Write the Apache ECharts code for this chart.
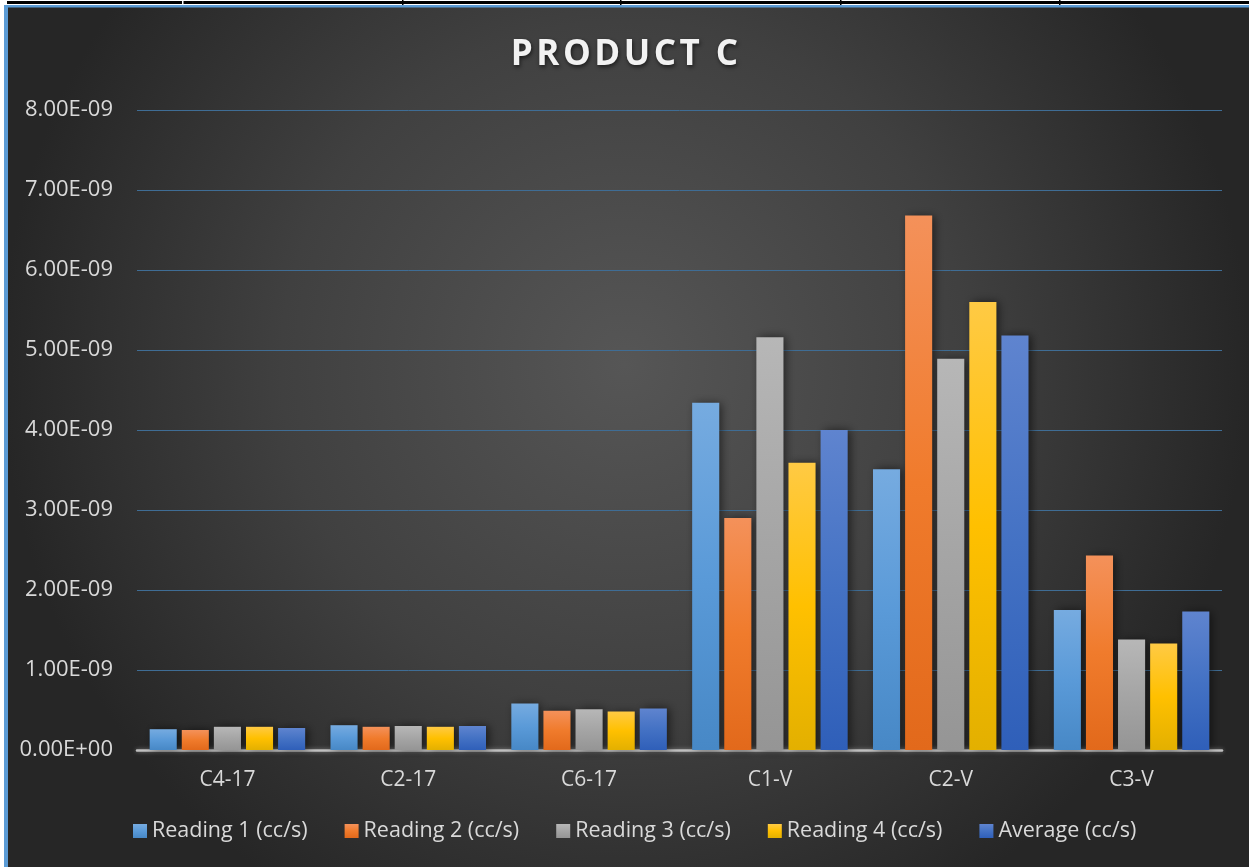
<!DOCTYPE html>
<html>
<head>
<meta charset="utf-8">
<style>
  html, body { margin: 0; padding: 0; background: #ffffff; }
  #chart { width: 1249px; height: 867px; }
</style>
<script src="https://cdn.jsdelivr.net/npm/echarts@6/dist/echarts.min.js"></script>
</head>
<body>
<div id="chart"></div>
<script>
// Leak-rate readings per sample, in cc/s
const categories = ['C4-17', 'C2-17', 'C6-17', 'C1-V', 'C2-V', 'C3-V'];
const seriesNames = ['Reading 1 (cc/s)', 'Reading 2 (cc/s)', 'Reading 3 (cc/s)', 'Reading 4 (cc/s)', 'Average (cc/s)'];
const reading1 = [0.26e-9, 0.31e-9, 0.58e-9, 4.34e-9, 3.51e-9, 1.75e-9];
const reading2 = [0.25e-9, 0.29e-9, 0.49e-9, 2.90e-9, 6.68e-9, 2.43e-9];
const reading3 = [0.29e-9, 0.30e-9, 0.51e-9, 5.16e-9, 4.89e-9, 1.38e-9];
const reading4 = [0.29e-9, 0.29e-9, 0.48e-9, 3.59e-9, 5.60e-9, 1.33e-9];
const average  = [0.275e-9, 0.30e-9, 0.52e-9, 4.00e-9, 5.18e-9, 1.73e-9];
const yMax = 8e-9;
const yStep = 1e-9;

// Vertical gradients for each series (top colour, middle, bottom)
const palette = [
  ['#76abe0', '#5a9ad8', '#4788c6'],
  ['#f4915a', '#f07b2c', '#e2691b'],
  ['#b7b7b7', '#a5a5a5', '#959595'],
  ['#ffca44', '#ffc000', '#e3b000'],
  ['#5f84cf', '#4472c4', '#2f5fb9']
];
const values = [reading1, reading2, reading3, reading4, average];

// 0.00E+00 style tick labels
function sci(v) {
  if (v === 0) return '0.00E+00';
  const s = v.toExponential(2);
  const [m, e] = s.split('e');
  const n = parseInt(e, 10);
  const sign = n < 0 ? '-' : '+';
  const ab = Math.abs(n);
  return m + 'E' + sign + (ab < 10 ? '0' + ab : ab);
}

const chart = echarts.init(document.getElementById('chart'));

const series = values.map((data, i) => ({
  name: seriesNames[i],
  type: 'bar',
  data: data,
  barGap: '18.5%',
  barCategoryGap: '14%',
  itemStyle: {
    color: new echarts.graphic.LinearGradient(0, 0, 0, 1, [
      { offset: 0, color: palette[i][0] },
      { offset: 0.5, color: palette[i][1] },
      { offset: 1, color: palette[i][2] }
    ]),
    shadowColor: 'rgba(0,0,0,0.55)',
    shadowBlur: 9,
    shadowOffsetX: 3,
    shadowOffsetY: 0
  },
  emphasis: { disabled: true }
}));

chart.setOption({
  animation: false,
  backgroundColor: new echarts.graphic.RadialGradient(0.5, 0.42, 0.72, [
    { offset: 0, color: '#565656' },
    { offset: 0.55, color: '#404040' },
    { offset: 1, color: '#262626' }
  ]),
  graphic: [
    // frame strips along the top and left edges
    { type: 'rect', shape: { x: 0, y: 0, width: 1249, height: 5 }, style: { fill: '#ffffff' }, z: 10 },
    { type: 'rect', shape: { x: 0, y: 0, width: 4, height: 867 }, style: { fill: '#ffffff' }, z: 10 },
    { type: 'rect', shape: { x: 7, y: 1, width: 1242, height: 3 }, style: { fill: '#000000' }, z: 11 },
    { type: 'rect', shape: { x: 4, y: 5, width: 1245, height: 2.5 }, style: { fill: '#5b9bd5' }, z: 11 },
    { type: 'rect', shape: { x: 4, y: 5, width: 4, height: 862 }, style: { fill: '#5b9bd5' }, z: 11 },
    { type: 'rect', shape: { x: 182, y: 0, width: 1.5, height: 4 }, style: { fill: '#ffffff' }, z: 12 },
    { type: 'rect', shape: { x: 402, y: 0, width: 1.5, height: 5 }, style: { fill: '#000000' }, z: 12 },
    { type: 'rect', shape: { x: 620, y: 0, width: 1.5, height: 5 }, style: { fill: '#000000' }, z: 12 },
    { type: 'rect', shape: { x: 840, y: 0, width: 1.5, height: 5 }, style: { fill: '#000000' }, z: 12 },
    { type: 'rect', shape: { x: 1059, y: 0, width: 1.5, height: 5 }, style: { fill: '#000000' }, z: 12 }
  ],
  title: {
    text: 'P\u200AR\u200AO\u200AD\u200AU\u200AC\u200AT\u200A \u200AC',
    left: 'center',
    top: 33,
    textStyle: {
      fontFamily: 'Open Sans',
      fontWeight: 'bold',
      fontSize: 35,
      color: '#f2f2f2',
      textShadowColor: 'rgba(0,0,0,0.6)',
      textShadowBlur: 4,
      textShadowOffsetX: 1,
      textShadowOffsetY: 2
    }
  },
  legend: {
    bottom: 20,
    left: 128,
    itemWidth: 14,
    itemHeight: 14,
    itemGap: 37,
    icon: 'rect',
    textStyle: { color: '#d9d9d9', fontFamily: 'Open Sans', fontSize: 21.5 },
    data: seriesNames
  },
  grid: { left: 137, right: 27, top: 110, bottom: 117 },
  xAxis: {
    type: 'category',
    data: categories,
    axisTick: { show: false },
    axisLine: { lineStyle: { color: '#bfbfbf', width: 2.5, shadowColor: 'rgba(255,255,255,0.4)', shadowBlur: 4 } },
    axisLabel: { color: '#d9d9d9', fontFamily: 'Open Sans', fontSize: 21, margin: 20 }
  },
  yAxis: {
    type: 'value',
    min: 0,
    max: yMax,
    interval: yStep,
    axisLine: { show: false },
    axisTick: { show: false },
    splitLine: { lineStyle: { color: '#3f6d95', width: 1 } },
    axisLabel: { color: '#d9d9d9', fontFamily: 'Open Sans', fontSize: 22, margin: 24, formatter: sci }
  },
  series: series
});
</script>
</body>
</html>
